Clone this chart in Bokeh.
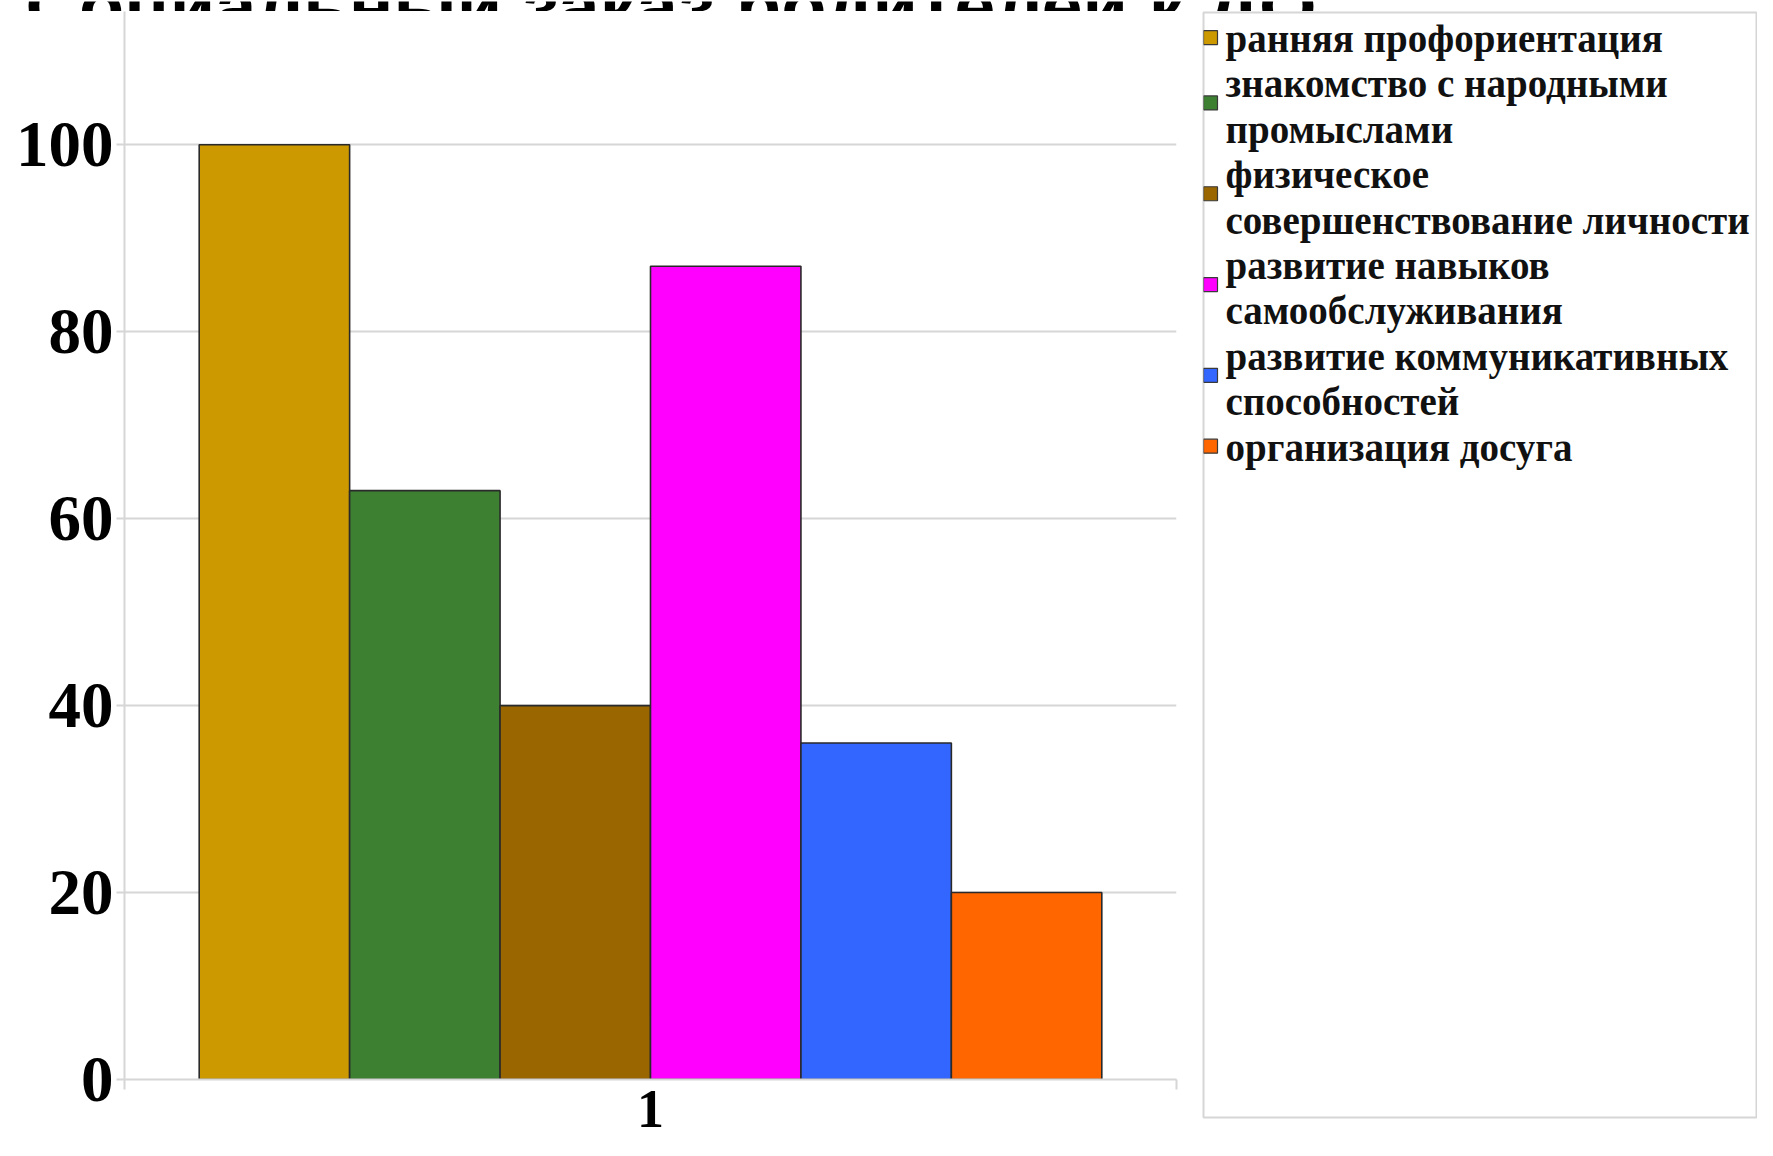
from bokeh.plotting import figure
from bokeh.models import Range1d, FixedTicker, ColumnDataSource
from bokeh.layouts import row, column
from bokeh.core.properties import value
from bokeh.embed import file_html
from bokeh.resources import INLINE

# ---------------- data ----------------
title_text = "Социальный заказ родителей к ДО"
group_label = "1"
categories = [
    "ранняя профориентация",
    "знакомство с народными промыслами",
    "физическое совершенствование личности",
    "развитие навыков самообслуживания",
    "развитие коммуникативных способностей",
    "организация досуга",
]
legend_lines = [
    ["ранняя профориентация"],
    ["знакомство с народными", "промыслами"],
    ["физическое", "совершенствование личности"],
    ["развитие навыков", "самообслуживания"],
    ["развитие коммуникативных", "способностей"],
    ["организация досуга"],
]
values = [100, 63, 40, 87, 36, 20]
colors = ["#cc9900", "#3d8031", "#996600", "#ff00ff", "#3366ff", "#ff6600"]
y_ticks = [0, 20, 40, 60, 80, 100]

# ---------------- layout constants ----------------
TOTAL_W, TOTAL_H = 1757, 1140
HEAD_H = 11
MAIN_W = 1202
LEG_W = TOTAL_W - MAIN_W
FRAME_L, FRAME_R = 124, 26
ZERO_Y = 1079
MAIN_H = TOTAL_H - HEAD_H
AX_B = TOTAL_H - ZERO_Y
PX_PER_UNIT = 9.347
Y_END = (ZERO_Y - HEAD_H) / PX_PER_UNIT
GROUP_W = 0.858
GRID = "#d6d6d6"
SERIF = "Liberation Serif"

# ---------------- header (title, cut at the top like the original) ----------------
head = figure(width=TOTAL_W, height=HEAD_H, output_backend="svg", toolbar_location=None,
              x_range=Range1d(0, TOTAL_W), y_range=Range1d(0, HEAD_H),
              x_axis_location=None, y_axis_location=None,
              min_border_left=0, min_border_right=0, min_border_top=0, min_border_bottom=0)
head.outline_line_color = None
head.grid.visible = False
head.frame_align = False
head.text(x=[25], y=[HEAD_H - 5], text=[title_text], text_align="left",
          text_baseline="alphabetic", text_font=value("Liberation Sans"),
          text_font_style="bold", text_font_size="74px", text_color="black")

# ---------------- main bar chart ----------------
n = len(values)
bw = GROUP_W / n
xs = [1 + (i - (n - 1) / 2) * bw for i in range(n)]
src = ColumnDataSource(dict(x=xs, top=values, color=colors, name=categories))

p = figure(width=MAIN_W, height=MAIN_H, output_backend="svg", toolbar_location=None,
           x_range=Range1d(0.5, 1.5), y_range=Range1d(0, Y_END),
           min_border_left=FRAME_L, min_border_right=FRAME_R,
           min_border_top=0, min_border_bottom=AX_B)
p.outline_line_color = None
p.frame_align = False

p.vbar(x="x", top="top", bottom=0, width=bw, fill_color="color",
       line_color="#2a2a2a", line_width=1.6, source=src)

p.xgrid.visible = False
p.ygrid.ticker = FixedTicker(ticks=y_ticks)
p.ygrid.grid_line_color = GRID
p.ygrid.grid_line_width = 2

ya = p.yaxis[0]
ya.ticker = FixedTicker(ticks=y_ticks)
ya.axis_line_color = GRID
ya.axis_line_width = 2
ya.major_tick_line_color = GRID
ya.major_tick_line_width = 2
ya.major_tick_out = 8
ya.major_tick_in = 0
ya.minor_tick_line_color = None
ya.major_label_text_font = SERIF
ya.major_label_text_font_style = "bold"
ya.major_label_text_font_size = "65px"
ya.major_label_text_color = "black"
ya.major_label_standoff = 3

xa = p.xaxis[0]
xa.ticker = FixedTicker(ticks=[1], minor_ticks=[0.5, 1.5])
xa.axis_line_color = GRID
xa.axis_line_width = 2
xa.minor_tick_line_color = GRID
xa.minor_tick_line_width = 2
xa.minor_tick_out = 10
xa.minor_tick_in = 0
xa.major_tick_line_color = None
xa.major_tick_out = 0
xa.major_tick_in = 0
xa.major_label_standoff = 1
xa.major_label_overrides = {1: group_label}
xa.major_label_text_font = SERIF
xa.major_label_text_font_style = "bold"
xa.major_label_text_font_size = "54px"
xa.major_label_text_color = "black"

# ---------------- legend panel ----------------
LEG_H = TOTAL_H - HEAD_H
L_TOP, L_BOT, L_LEFT, L_RIGHT = 1, 23, 1, 1
leg_fw = LEG_W - L_LEFT - L_RIGHT
leg_fh = LEG_H - L_TOP - L_BOT
LINE_PX = 45.4
off = 26 / LINE_PX

lg = figure(width=LEG_W, height=LEG_H, output_backend="svg", toolbar_location=None,
            x_range=Range1d(0, leg_fw), y_range=Range1d(leg_fh / LINE_PX - off, -off),
            x_axis_location=None, y_axis_location=None,
            min_border_left=L_LEFT, min_border_right=L_RIGHT,
            min_border_top=L_TOP, min_border_bottom=L_BOT)
lg.grid.visible = False
lg.outline_line_color = GRID
lg.outline_line_width = 2
lg.frame_align = False

line_y, line_text, sq_y = [], [], []
k = 0
for lines in legend_lines:
    sq_y.append(k + (len(lines) - 1) / 2 - (0.08 if len(lines) > 1 else 0.02))
    for t in lines:
        line_y.append(k)
        line_text.append(t)
        k += 1

lg.scatter(x=[7] * n, y=sq_y, marker="square", size=14,
           fill_color=colors, line_color="#3a3a3a", line_width=1.2)
lg.text(x=[22] * len(line_y), y=line_y, text=line_text,
        text_baseline="middle", text_align="left",
        text_font=value(SERIF), text_font_style="bold",
        text_font_size="39px", text_color="#111111")

layout = column(head, row(p, lg))
open("out.html", "w").write(file_html(layout, INLINE))
